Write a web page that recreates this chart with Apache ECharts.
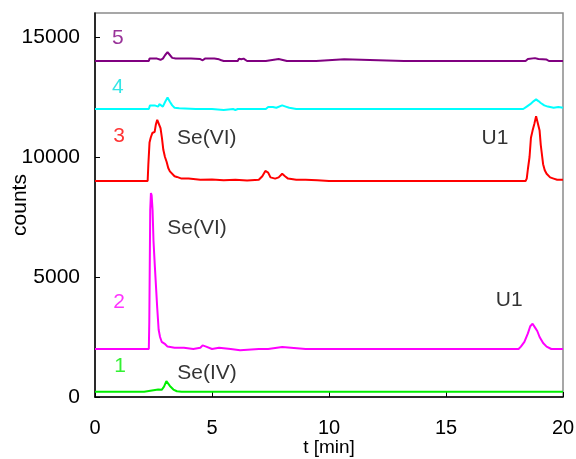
<!DOCTYPE html>
<html>
<head>
<meta charset="utf-8">
<script src="https://cdn.jsdelivr.net/npm/echarts@6/dist/echarts.min.js"></script>
<style>html,body{margin:0;padding:0;background:#fff}#c{width:576px;height:459px}</style>
</head>
<body>
<div id="c"></div>
<script>
// x ticks / y ticks
const xTicks = [0, 5, 10, 15, 20];
const yTicks = [0, 5000, 10000, 15000];

// trace 1 (green) [t, counts]
const trace1 = [[0,220],[0.25,220],[0.3,140],[0.35,220],[0.5,220],[0.55,140],[0.6,220],[1.5,220],[1.55,150],[1.6,220],[2.0,220],[2.05,150],[2.1,220],[2.3,250],[2.35,310],[2.7,310],[2.75,260],[2.85,300],[2.95,430],[3.05,660],[3.12,620],[3.2,460],[3.35,310],[3.5,240],[3.7,220],[8.75,220],[8.8,150],[8.85,220],[9.4,220],[9.45,150],[9.5,220],[17.45,220],[17.5,150],[17.55,220],[20,220]];

// trace 2 (magenta)
const trace2 = [[0,2000],[2.3,2000],[2.32,3100],[2.36,7800],[2.39,8500],[2.42,8400],[2.46,7800],[2.5,6500],[2.56,5400],[2.62,5400],[2.66,3700],[2.72,2800],[2.78,2500],[2.85,2300],[3.0,2200],[3.1,2100],[3.4,2050],[3.8,2050],[4.2,2000],[4.5,2050],[4.6,2150],[4.75,2100],[5.0,2000],[5.3,2050],[5.8,2000],[6.2,1950],[7.0,2000],[7.4,2000],[7.45,2080],[8.0,2080],[8.05,2000],[9.0,2000],[10.0,2000],[12.0,2000],[14.0,2000],[16.0,2000],[18.1,2000],[18.2,2100],[18.35,2300],[18.5,2650],[18.6,2950],[18.7,3050],[18.8,2900],[18.9,2750],[19.0,2500],[19.15,2250],[19.3,2100],[19.5,2000],[20,2000]];

// trace 3 (red)
const trace3 = [[0,9000],[2.25,9000],[2.28,9700],[2.33,10600],[2.38,10800],[2.45,11000],[2.55,11050],[2.6,11350],[2.66,11550],[2.73,11500],[2.8,11200],[2.86,10800],[2.92,10300],[2.99,10000],[3.06,9800],[3.13,9540],[3.2,9400],[3.28,9330],[3.4,9200],[3.5,9170],[3.7,9100],[4.0,9100],[4.5,9050],[5.0,9060],[5.5,9030],[6.0,9050],[6.5,9020],[7.0,9050],[7.15,9200],[7.28,9420],[7.4,9350],[7.5,9150],[7.7,9100],[7.85,9150],[8.0,9300],[8.12,9200],[8.25,9100],[8.6,9050],[9.0,9050],[9.5,9030],[10,9000],[12,9000],[14,9000],[16,9000],[18.4,9000],[18.45,9100],[18.5,9500],[18.57,10000],[18.63,10800],[18.7,11100],[18.78,11400],[18.85,11700],[18.92,11650],[19.0,11100],[19.05,10500],[19.15,9700],[19.22,9450],[19.3,9300],[19.45,9150],[19.6,9100],[19.75,9050],[20,9050]];

// trace 4 (cyan)
const trace4 = [[0,12000],[2.3,12000],[2.35,12150],[2.55,12150],[2.6,12100],[2.7,12100],[2.75,12200],[2.9,12100],[3.0,12300],[3.1,12480],[3.2,12300],[3.3,12150],[3.4,12050],[3.6,12030],[4.3,12000],[4.35,11950],[4.4,12000],[4.6,12000],[4.65,11950],[5.0,12000],[5.5,11960],[5.9,12000],[6.0,11960],[6.1,12000],[7.3,12000],[7.4,12080],[7.6,12080],[7.75,12050],[8.0,12150],[8.15,12100],[8.3,12050],[8.6,12000],[9.2,12000],[9.25,11950],[9.3,12000],[10.0,12000],[10.05,11950],[10.1,12000],[10.35,12000],[10.4,11950],[10.45,12000],[18.3,12000],[18.45,12100],[18.6,12200],[18.75,12330],[18.85,12400],[18.95,12330],[19.05,12250],[19.2,12150],[19.35,12100],[19.6,12050],[19.8,12080],[20,12050]];

// trace 5 (purple)
const trace5 = [[0,14000],[2.3,14000],[2.33,14100],[2.5,14100],[2.55,14030],[2.65,14100],[2.8,14050],[2.9,14100],[3.0,14250],[3.1,14370],[3.2,14250],[3.3,14130],[3.45,14100],[4.0,14100],[4.05,14030],[4.1,14100],[4.5,14080],[4.6,14030],[4.7,14100],[5.0,14100],[5.05,14030],[5.1,14100],[5.3,14070],[5.4,14030],[5.5,14000],[6.1,14000],[6.15,14100],[6.25,14070],[6.35,14100],[6.5,14000],[7.3,14000],[7.35,14080],[7.85,14080],[7.9,14000],[8.2,14000],[8.25,14030],[8.3,14000],[9.45,14000],[9.5,14070],[10.65,14070],[10.7,14000],[13.2,14000],[13.25,14060],[13.3,14000],[13.6,14000],[13.65,14060],[13.7,14000],[14.4,14000],[14.45,14060],[14.5,14000],[14.9,14000],[14.95,14060],[15.0,14000],[15.8,14000],[15.85,14060],[15.9,14000],[16.5,14000],[16.55,14060],[16.6,14000],[17.3,14000],[17.35,14060],[17.4,14000],[17.8,14000],[17.85,14060],[17.9,14000],[18.4,14000],[18.5,14080],[18.8,14120],[18.95,14080],[19.3,14060],[19.4,14000],[20,14000]];

const traceColors = ['#00ee00', '#ff00ff', '#ff0000', '#00ffff', '#800080'];

// annotations [text, t, counts, color]
const annotations = [
  ['5', 0.98, 14960, '#800080'],
  ['4', 0.98, 12920, '#00e0e0'],
  ['3', 1.03, 10875, '#ff0000'],
  ['2', 1.03, 3960, '#ff00ff'],
  ['1', 1.07, 1290, '#00ee00'],
  ['Se(VI)', 4.78, 10790, '#000'],
  ['Se(VI)', 4.36, 7040, '#000'],
  ['U1', 17.09, 10790, '#000'],
  ['U1', 17.7, 4040, '#000'],
  ['Se(IV)', 4.79, 1000, '#000']
];

const FONT = '"Liberation Sans", Arial, sans-serif';
const chart = echarts.init(document.getElementById('c'), null, {renderer: 'canvas'});
const traces = [trace1, trace2, trace3, trace4, trace5];
const series = traces.map((d, i) => ({
  type: 'line', data: d, showSymbol: false, symbol: 'none',
  lineStyle: {color: traceColors[i], width: 2}, itemStyle: {color: traceColors[i]},
  animation: false, z: 3
}));
series.push({
  type: 'scatter', symbolSize: 0, z: 5, animation: false,
  data: annotations.map(a => ({
    value: [a[1], a[2]],
    label: {show: true, position: 'inside', formatter: a[0], color: a[3], fontSize: 21, fontFamily: FONT}
  }))
});

chart.setOption({
  animation: false,
  backgroundColor: '#fff',
  grid: {left: 95, right: 13, top: 13, bottom: 62, show: true, borderColor: '#8a8a8a', borderWidth: 1.5,
         containLabel: false, outerBoundsMode: 'none'},
  xAxis: {
    type: 'value', min: xTicks[0], max: xTicks[xTicks.length - 1], interval: 5,
    axisLine: {show: true, lineStyle: {color: '#000', width: 1.5}},
    axisTick: {show: true, inside: true, length: 5, lineStyle: {color: '#000', width: 1}},
    axisLabel: {color: '#000', fontSize: 20, fontFamily: FONT, margin: 21, formatter: v => String(v)},
    splitLine: {show: false},
    name: 't [min]', nameLocation: 'middle', nameGap: 41, nameMoveOverlap: false,
    nameTextStyle: {color: '#000', fontSize: 19, fontFamily: FONT}
  },
  yAxis: {
    type: 'value', min: yTicks[0], max: 16000, interval: 5000,
    axisLine: {show: true, lineStyle: {color: '#000', width: 1.5}},
    axisTick: {show: true, inside: true, length: 5, lineStyle: {color: '#000', width: 1}},
    axisLabel: {color: '#000', fontSize: 21, fontFamily: FONT, margin: 15, showMaxLabel: false, formatter: v => String(v)},
    splitLine: {show: false},
    name: 'counts', nameLocation: 'middle', nameGap: 64, nameRotate: 90, nameMoveOverlap: false,
    nameTextStyle: {color: '#000', fontSize: 21, fontFamily: FONT}
  },
  series: series
});
</script>
</body>
</html>
